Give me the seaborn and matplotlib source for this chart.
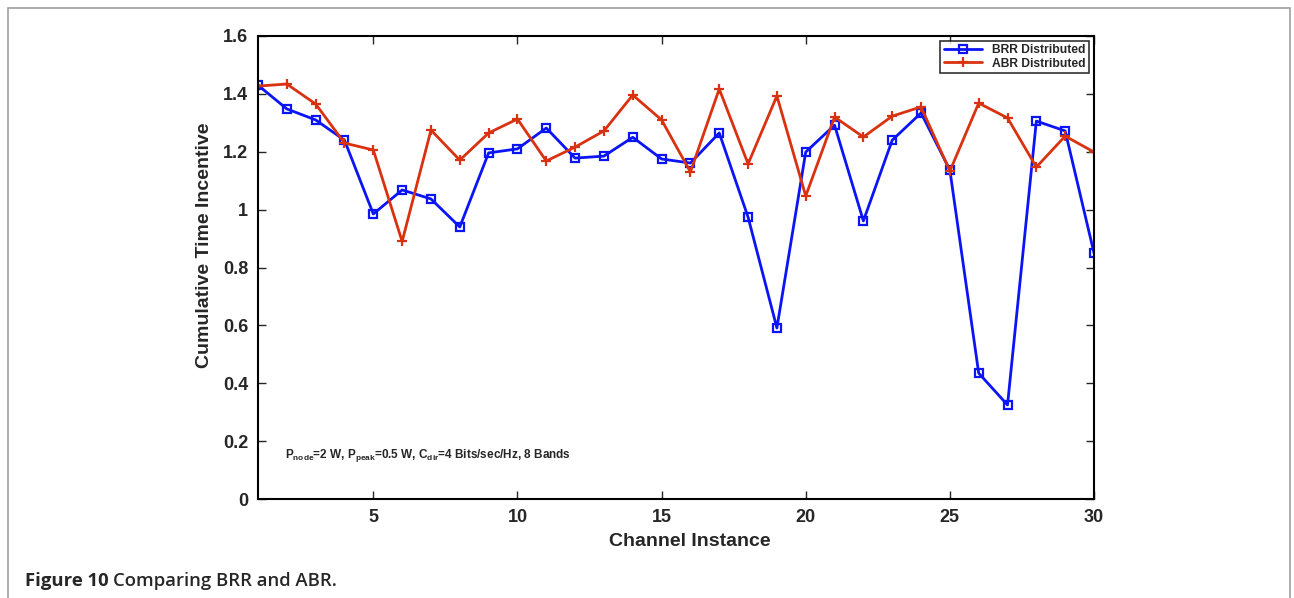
import matplotlib
matplotlib.use("Agg")
import matplotlib.pyplot as plt
import seaborn as sns
import pandas as pd
from matplotlib.patches import Rectangle

channel = list(range(1, 31))
brr = [1.430, 1.348, 1.310, 1.240, 0.985, 1.068, 1.037, 0.940, 1.196, 1.210,
       1.282, 1.178, 1.185, 1.250, 1.175, 1.161, 1.265, 0.974, 0.591, 1.199,
       1.292, 0.961, 1.240, 1.334, 1.137, 0.435, 0.325, 1.306, 1.272, 0.850]
abr = [1.427, 1.434, 1.365, 1.230, 1.206, 0.890, 1.275, 1.171, 1.265, 1.313,
       1.168, 1.216, 1.272, 1.396, 1.310, 1.130, 1.417, 1.158, 1.393, 1.047,
       1.320, 1.251, 1.323, 1.355, 1.133, 1.368, 1.317, 1.147, 1.254, 1.199]
xticks = [5, 10, 15, 20, 25, 30]
yticks = [0, 0.2, 0.4, 0.6, 0.8, 1.0, 1.2, 1.4, 1.6]
ytick_labels = ["0", "0.2", "0.4", "0.6", "0.8", "1", "1.2", "1.4", "1.6"]

sns.set_style("ticks")
plt.rcParams["font.family"] = ["Liberation Sans", "DejaVu Sans"]
plt.rcParams["mathtext.fontset"] = "custom"
plt.rcParams["mathtext.rm"] = "Liberation Sans:bold"
plt.rcParams["mathtext.it"] = "Liberation Sans:bold"
plt.rcParams["mathtext.bf"] = "Liberation Sans:bold"

df = pd.DataFrame({"x": channel, "brr": brr, "abr": abr})

fig = plt.figure(figsize=(12.94, 5.98), dpi=100)
ax = fig.add_axes([258 / 1294, 1 - 499 / 598, (1094 - 258) / 1294, (499 - 36) / 598])

sns.lineplot(data=df, x="x", y="brr", ax=ax, color="#0a14f5", lw=2.0,
             marker="s", markersize=5.5, markerfacecolor="none",
             markeredgecolor="#0a14f5", markeredgewidth=1.6, label="BRR Distributed")
sns.lineplot(data=df, x="x", y="abr", ax=ax, color="#d93210", lw=2.0,
             marker="+", markersize=7, markeredgewidth=1.6,
             markeredgecolor="#d93210", label="ABR Distributed")

ax.set_xlim(1, 30)
ax.set_ylim(0, 1.6)
ax.set_xticks(xticks)
ax.set_xticklabels([str(t) for t in xticks], fontsize=13, fontweight="bold")
ax.set_yticks(yticks)
ax.set_yticklabels(ytick_labels, fontsize=13, fontweight="bold")
ax.tick_params(direction="in", length=6, width=1, top=True, right=True, pad=7)
for s in ax.spines.values():
    s.set_linewidth(1.5)
    s.set_color("black")
ax.set_xlabel("Channel Instance", fontsize=14, fontweight="bold")
ax.set_ylabel("Cumulative Time Incentive", fontsize=14, fontweight="bold")
ax.xaxis.set_label_coords(0.517, -0.0734)
ax.yaxis.set_label_coords(-0.054, 0.549)

leg = ax.legend(loc="upper right", frameon=True, fancybox=False,
                borderaxespad=0.4, handlelength=3.2, borderpad=0.3,
                labelspacing=0.1, prop={"weight": "bold", "size": 8.7})
leg.get_frame().set_edgecolor("black")
leg.get_frame().set_linewidth(1.2)

ax.text(0.032, 0.075,
        r"P$_{\mathbf{node}}$=2 W, P$_{\mathbf{peak}}$=0.5 W, C$_{\mathbf{dir}}$=4 Bits/sec/Hz, 8 Bands",
        transform=ax.transAxes, fontsize=8.5, fontweight="bold", va="bottom", ha="left")

fig.patches.append(Rectangle((8 / 1294, -0.05), (1290 - 8) / 1294, 1 - 8 / 598 + 0.05,
                             transform=fig.transFigure, fill=False,
                             edgecolor="#a0a0a0", lw=1.2))
fig.text(25 / 1294, 1 - 581 / 598, "Figure 10", fontsize=13.3, fontweight="bold",
         family=["Open Sans", "DejaVu Sans"], va="center", ha="left")
fig.text(113 / 1294, 1 - 581 / 598, "Comparing BRR and ABR.", fontsize=13.3,
         fontweight="semibold", family=["Open Sans", "DejaVu Sans"], va="center", ha="left")

fig.savefig("out.png", dpi=100)
